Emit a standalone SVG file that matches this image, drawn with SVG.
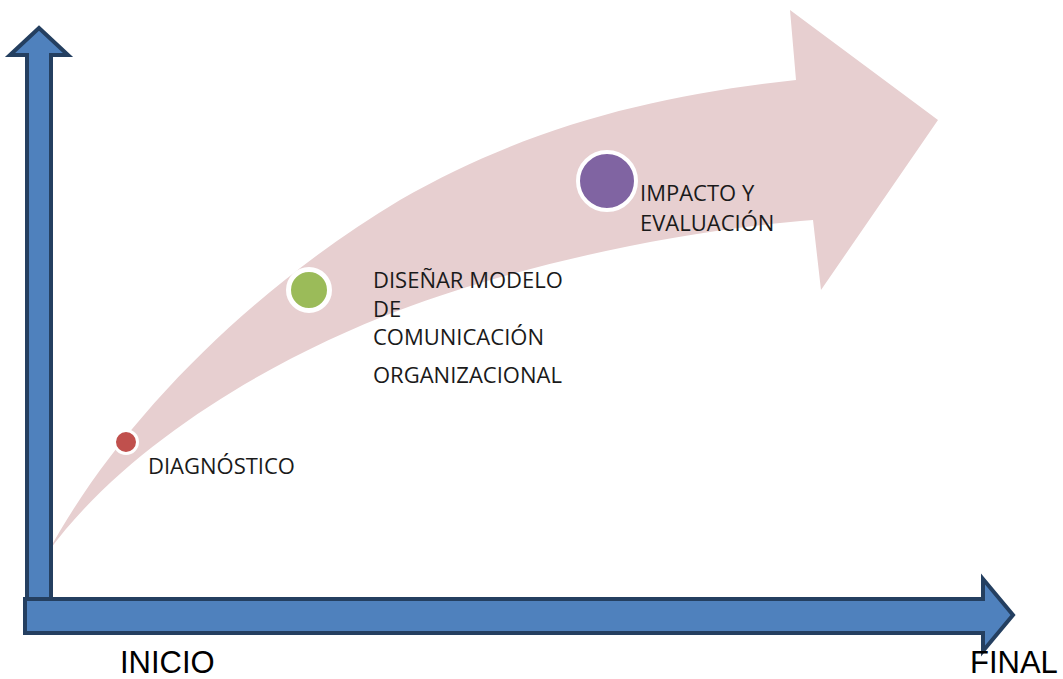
<svg xmlns="http://www.w3.org/2000/svg" width="1063" height="679" viewBox="0 0 1063 679">
<style>
.axis{fill:#4F81BD;stroke:#243F60;stroke-width:4;stroke-linejoin:miter}
.lbl{font-family:"Open Sans","DejaVu Sans",sans-serif;font-size:22px;fill:#1a1a1a}
.ax{font-family:"Liberation Sans",Arial,sans-serif;font-size:31px;fill:#000}
.dot{stroke:#fff}
</style>
<rect width="1063" height="679" fill="#fff"/>
<g id="progress-arrow">
<path d="M48,552 C120,420 250,290 400,200 C530,125 660,95 796,80 L790,10 L938,120 L821,290 L813,220 C680,230 520,265 400,310 C280,355 130,440 48,552 Z" fill="#E7CFD0"/>
</g>
<g id="connectors">
<polygon class="axis" points="27,600 27,55 10,55 39,28 68,55 51,55 51,600"/>
<polygon class="axis" points="25,599 983,599 983,579 1013,615 983,651 983,633 25,633"/>
</g>
<g id="diagnostico">
<circle class="dot" cx="126" cy="442" r="11.5" stroke-width="3" fill="#C0504D"/>
<text class="lbl" x="148" y="474">DIAGNÓSTICO</text>
</g>
<g id="disenar">
<circle class="dot" cx="309" cy="290" r="20.5" stroke-width="5" fill="#9BBB59"/>
<text class="lbl" x="373" y="288">DISEÑAR MODELO</text>
<text class="lbl" x="373" y="317">DE</text>
<text class="lbl" x="373" y="345">COMUNICACIÓN</text>
<text class="lbl" x="373" y="383">ORGANIZACIONAL</text>
</g>
<g id="impacto">
<circle class="dot" cx="607" cy="181" r="29" stroke-width="4" fill="#8064A2"/>
<text class="lbl" x="640" y="201">IMPACTO  Y</text>
<text class="lbl" x="640" y="231">EVALUACIÓN</text>
</g>
<g id="inicio"><text class="ax" x="120" y="673">INICIO</text></g>
<g id="final"><text class="ax" x="970" y="673">FINAL</text></g>
</svg>
